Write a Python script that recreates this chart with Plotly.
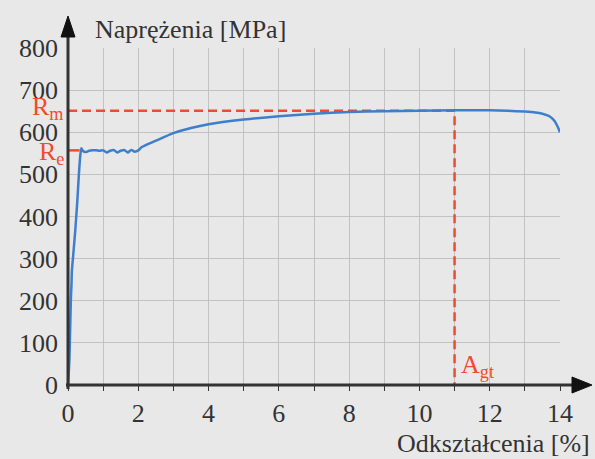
import plotly.graph_objects as go

# Data
strain = [0.0, 0.04, 0.08, 0.10, 0.11, 0.14, 0.20, 0.26, 0.31, 0.35, 0.38, 0.42, 0.50, 0.60, 0.70,
          0.80, 0.90, 1.00, 1.10, 1.20, 1.30, 1.40, 1.50, 1.60, 1.70, 1.80, 1.90, 2.00, 2.10,
          2.50, 3.00, 3.50, 4.00, 5.00, 6.00, 7.00, 8.00, 9.00, 10.00, 11.00, 12.00, 12.50,
          13.00, 13.30, 13.50, 13.70, 13.85, 13.95, 14.00]
stress = [0, 60, 200, 240, 270, 300, 360, 430, 500, 545, 562, 556, 553, 556, 557,
          557, 556, 557, 552, 556, 558, 552, 556, 558, 552, 558, 554, 557, 565,
          580, 598, 610, 619, 630, 638, 644, 648, 650, 651, 652, 652, 651,
          649, 647, 644, 638, 626, 610, 600]

Re = 557
Rm = 651
Agt = 11.0

x_ticks = [0, 2, 4, 6, 8, 10, 12, 14]
y_ticks = [0, 100, 200, 300, 400, 500, 600, 700, 800]
y_title = "Naprężenia [MPa]"
x_title = "Odkształcenia [%]"

BLUE = "#3d7fcc"
RED = "#f04b2f"
AX = "#333333"
BG = "#e8e8e8"
GRID = "#c2c2c2"
SERIF = "Liberation Serif"
FS = 26

fig = go.Figure()

# red dashed reference lines
fig.add_trace(go.Scatter(x=[0, Agt, Agt], y=[Rm, Rm, 0], mode="lines",
                         line=dict(color=RED, width=2.5, dash="9px,5px"),
                         hoverinfo="skip", showlegend=False))
fig.add_trace(go.Scatter(x=[0, 0.33], y=[Re, Re], mode="lines",
                         line=dict(color=RED, width=2.5),
                         hoverinfo="skip", showlegend=False))
# stress-strain curve
fig.add_trace(go.Scatter(x=strain, y=stress, mode="lines",
                         line=dict(color=BLUE, width=2.5, shape="spline", smoothing=0.6),
                         showlegend=False))

L, R, T, B = 68, 35, 48, 74
W, H = 595, 459
pw = W - L - R
ph = H - T - B


def px(x):
    return (x - L) / pw


def py(y):
    return (H - B - y) / ph


shapes = [
    dict(type="line", xref="paper", yref="paper", x0=0, x1=0, y0=py(389), y1=py(30),
         line=dict(color=AX, width=3)),
    dict(type="line", xref="paper", yref="paper", x0=px(66), x1=px(578), y0=0, y1=0,
         line=dict(color=AX, width=3)),
    dict(type="path", xref="paper", yref="paper",
         path=f"M {px(61)},{py(37)} L {px(75)},{py(37)} L {px(68)},{py(16)} Z",
         fillcolor="#111111", line=dict(color="#111111", width=1)),
    dict(type="path", xref="paper", yref="paper",
         path=f"M {px(572)},{py(377)} L {px(572)},{py(393)} L {px(592)},{py(385)} Z",
         fillcolor="#111111", line=dict(color="#111111", width=1)),
]

annotations = [
    dict(text=y_title, xref="paper", yref="paper", x=px(93), y=py(30), xanchor="left",
         yanchor="middle", showarrow=False, font=dict(family=SERIF, size=FS, color=AX)),
    dict(text=x_title, xref="paper", yref="paper", x=px(592), y=py(443), xanchor="right",
         yanchor="middle", showarrow=False, font=dict(family=SERIF, size=FS, color=AX)),
    dict(text="R<sub>m</sub>", xref="paper", yref="paper", x=px(30), y=py(108), xanchor="left",
         yanchor="middle", showarrow=False, font=dict(family=SERIF, size=FS, color=RED)),
    dict(text="R<sub>e</sub>", xref="paper", yref="paper", x=px(37), y=py(153), xanchor="left",
         yanchor="middle", showarrow=False, font=dict(family=SERIF, size=FS, color=RED)),
    dict(text="A<sub>gt</sub>", xref="paper", yref="paper", x=px(459), y=py(366), xanchor="left",
         yanchor="middle", showarrow=False, font=dict(family=SERIF, size=FS, color=RED)),
]

fig.update_layout(
    width=W, height=H,
    margin=dict(l=L, r=R, t=T, b=B),
    paper_bgcolor=BG, plot_bgcolor=BG,
    font=dict(family=SERIF),
    shapes=shapes, annotations=annotations,
    xaxis=dict(range=[0, 14], tickvals=x_ticks, ticktext=[str(v) for v in x_ticks],
               showgrid=True, gridcolor=GRID, gridwidth=1, zeroline=False, showline=False,
               ticks="outside", ticklen=5, tickcolor=AX, tickwidth=1,
               tickfont=dict(family=SERIF, size=FS, color=AX),
               minor=dict(dtick=1, tick0=0, showgrid=True, gridcolor=GRID, gridwidth=1,
                          ticks="outside", ticklen=5, tickcolor=AX)),
    yaxis=dict(range=[0, 800], tickvals=y_ticks, showgrid=True, gridcolor=GRID, gridwidth=1,
               zeroline=False, showline=False, ticks="", ticklabelstandoff=9,
               tickfont=dict(family=SERIF, size=FS, color=AX)),
)

fig.write_html("out.html", config={"displayModeBar": False},
               post_script="document.body.style.margin='0';document.body.style.background='%s';" % BG)
